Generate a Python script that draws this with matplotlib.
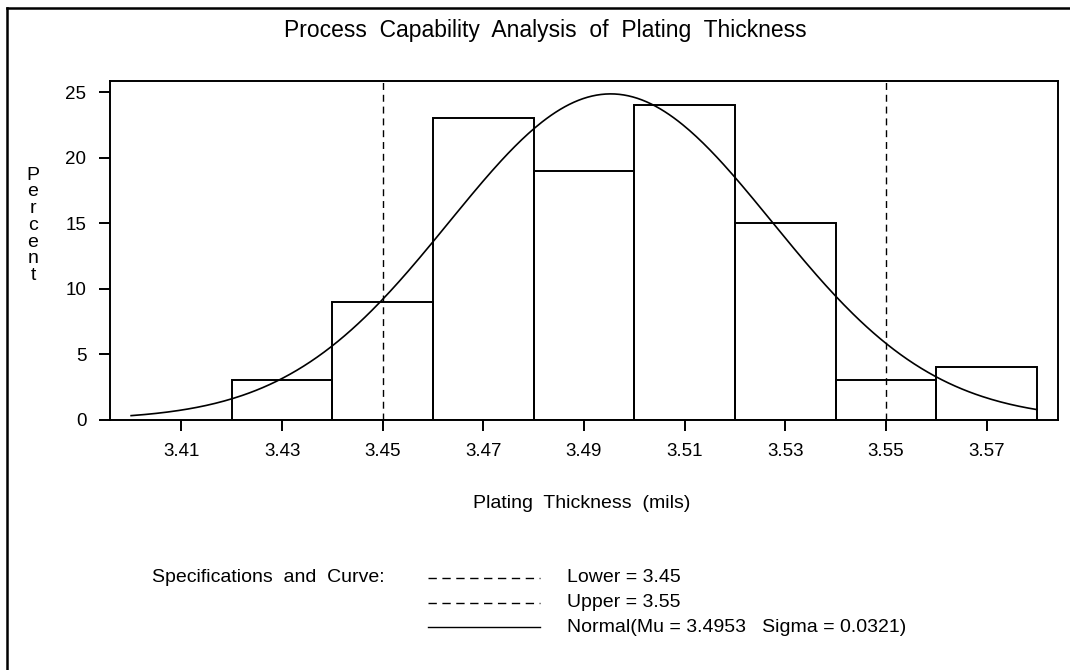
#!/usr/bin/env python3

"""Process capability histogram of plating thickness with normal curve and spec limits."""

import numpy as np
import matplotlib
matplotlib.use("Agg")
from matplotlib import pyplot as plt
from matplotlib.lines import Line2D
from matplotlib.patches import Rectangle

# histogram bins (left edges) and percents
bin_left = [3.42, 3.44, 3.46, 3.48, 3.50, 3.52, 3.54, 3.56]
bin_width = 0.02
percents = [3, 9, 23, 19, 24, 15, 3, 4]

# spec limits and fitted normal parameters
lower_spec = 3.45
upper_spec = 3.55
mu = 3.4953
sigma = 0.0321
curve_range = (3.40, 3.58)

x_ticks = [3.41, 3.43, 3.45, 3.47, 3.49, 3.51, 3.53, 3.55, 3.57]
y_ticks = [0, 5, 10, 15, 20, 25]

plt.rcParams['font.family'] = ['Liberation Sans', 'DejaVu Sans']

W, H = 1070, 670
fs = 13.5
fig = plt.figure(figsize=(W / 100, H / 100), dpi=100)
ax = fig.add_axes([110 / W, 1 - 419.6 / H, (1058 - 110) / W, (419.6 - 81) / H])

# bars
for left, pct in zip(bin_left, percents):
    ax.add_patch(Rectangle((left, 0), bin_width, pct, fill=False,
                           edgecolor='black', linewidth=1.4, zorder=2))

# normal curve scaled to percent per bin
xs = np.linspace(curve_range[0], curve_range[1], 400)
ys = 100 * bin_width / (sigma * np.sqrt(2 * np.pi)) * np.exp(-0.5 * ((xs - mu) / sigma) ** 2)
ax.plot(xs, ys, color='black', linewidth=1.2, zorder=3)

# spec limits
for spec in (lower_spec, upper_spec):
    ax.axvline(spec, color='black', linewidth=1.0, linestyle=(0, (5, 3.5)), zorder=1)

ax.set_xlim(3.3958, 3.5842)
ax.set_ylim(0, 25.84)
ax.set_xticks(x_ticks)
ax.set_xticklabels([f'{t:.2f}' for t in x_ticks])
ax.set_yticks(y_ticks)
ax.tick_params(direction='out', length=8, width=1.4, labelsize=fs, pad=9)
for s in ax.spines.values():
    s.set_linewidth(1.4)

# titles and labels
fig.text(545 / W, 1 - 30 / H, 'Process  Capability  Analysis  of  Plating  Thickness',
         ha='center', va='center', fontsize=16.5)
fig.text(582 / W, 1 - 504 / H, 'Plating  Thickness  (mils)',
         ha='center', va='center', fontsize=14)
for i, ch in enumerate('Percent'):
    fig.text(33 / W, 1 - (175 + i * 16.8) / H, ch, ha='center', va='center', fontsize=14)

# legend block
fig.text(152 / W, 1 - 578 / H, 'Specifications  and  Curve:', ha='left', va='center', fontsize=14)
legend_rows = [
    ('Lower = 3.45', (0, (6, 4))),
    ('Upper = 3.55', (0, (6, 4))),
    ('Normal(Mu = 3.4953   Sigma = 0.0321)', '-'),
]
for i, (label, ls) in enumerate(legend_rows):
    y = 1 - (578 + i * 24.5) / H
    fig.add_artist(Line2D([428 / W, 540 / W], [y, y], color='black',
                          linewidth=1.0, linestyle=ls))
    fig.text(567 / W, y, label, ha='left', va='center', fontsize=14)

# outer frame
fig.add_artist(Line2D([7 / W, 7 / W], [0, 1 - 8 / H], color='black', linewidth=1.8))
fig.add_artist(Line2D([7 / W, 1], [1 - 8 / H, 1 - 8 / H], color='black', linewidth=1.8))

fig.savefig('out.png', dpi=100)
